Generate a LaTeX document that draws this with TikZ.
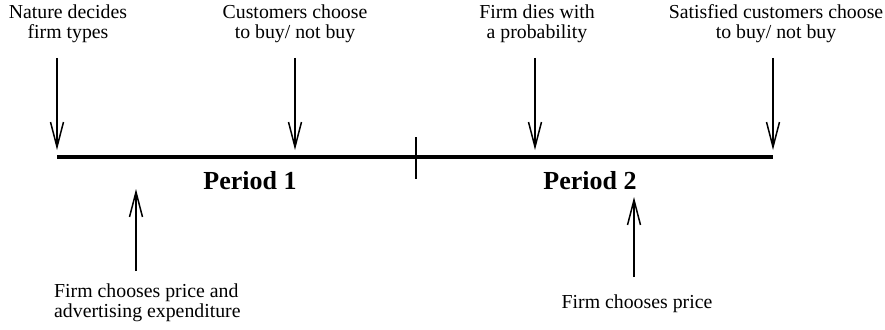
\documentclass[tikz,border=0pt]{standalone}
\usepackage{fontspec}
\setmainfont{Liberation Serif}
\usetikzlibrary{arrows.meta}
\tikzset{
  label text/.style={inner sep=0pt, anchor=base, align=center,
    font=\fontsize{19.8pt}{20pt}\selectfont},
  period text/.style={inner sep=0pt, anchor=base,
    font=\fontsize{26pt}{30pt}\selectfont\bfseries},
  event/.style={line width=1.5pt, -{Straight Barb[length=25pt,width=13pt,line width=1.5pt]}},
  axis/.style={line width=4pt},
}
\begin{document}
\begin{tikzpicture}[x=1pt,y=-1pt]
\useasboundingbox (0,0) rectangle (885,329);

% time axis and the divider between the two periods
\coordinate (t0) at (57,157);
\coordinate (t1) at (773,157);
\draw[axis] (t0) -- (t1);
\coordinate (divtop) at (415.5,137);
\coordinate (divbot) at (415.5,179);
\draw[line width=2pt] (divtop) -- (divbot);

\node[period text] (p1) at (250,189) {Period 1};
\node[period text] (p2) at (590,189) {Period 2};

% events above the axis (base = baseline of the last line)
\node[label text] (nature) at (68,38) {Nature decides\\firm types};
\node[label text] (cust)   at (295,38) {Customers choose\\to buy/ not buy};
\node[label text] (dies)   at (537,38) {Firm dies with\\a probability};
\node[label text] (sat)    at (776,38) {Satisfied customers choose\\to buy/ not buy};

\coordinate (a1s) at (57,58);  \coordinate (a1e) at (57,150);
\coordinate (a2s) at (295,58); \coordinate (a2e) at (295,150);
\coordinate (a3s) at (535,58); \coordinate (a3e) at (535,150);
\coordinate (a4s) at (773,58); \coordinate (a4e) at (773,150);
\draw[event] (a1s) -- (a1e);
\draw[event] (a2s) -- (a2e);
\draw[event] (a3s) -- (a3e);
\draw[event] (a4s) -- (a4e);

% firm decisions below the axis
\node[label text, align=left, anchor=base west] (adv) at (54,317)
  {Firm chooses price and\\advertising expenditure};
\node[label text] (price) at (637,308) {Firm chooses price};

\coordinate (b1s) at (136,271); \coordinate (b1e) at (136,189);
\coordinate (b2s) at (634,277); \coordinate (b2e) at (634,197);
\draw[event] (b1s) -- (b1e);
\draw[event] (b2s) -- (b2e);
\end{tikzpicture}
\end{document}
